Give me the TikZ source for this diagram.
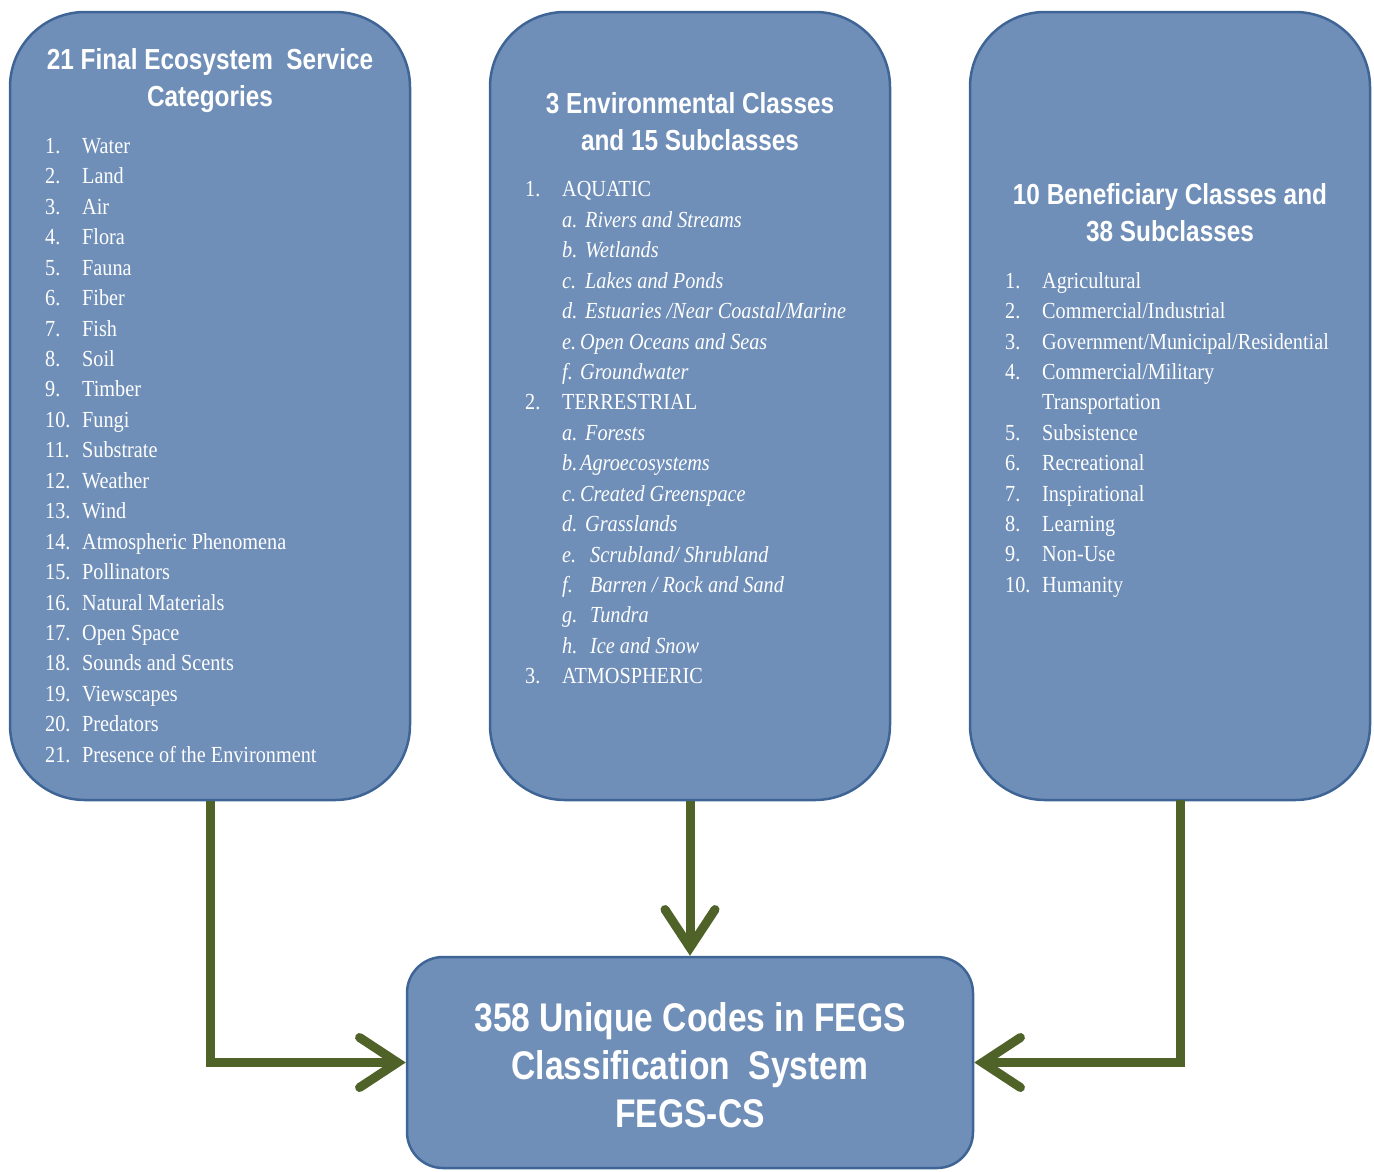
\documentclass[tikz,border=0pt]{standalone}
\usepackage{fontspec}
\setmainfont{Liberation Serif}[FakeStretch=0.88]
\newfontfamily\hdfont{Liberation Sans}[FakeStretch=0.84]
\usetikzlibrary{arrows.meta}
\definecolor{boxfill}{HTML}{6F8FB8}
\definecolor{boxline}{HTML}{3F6596}
\definecolor{fegsgreen}{HTML}{4F6228}
\tikzset{
  panel/.style={draw=boxline, fill=boxfill, line width=2.5pt, rounded corners=75pt, inner sep=0pt, minimum width=400pt, minimum height=788pt},
  resultbox/.style={draw=boxline, fill=boxfill, line width=2.5pt, rounded corners=36pt, inner sep=0pt, minimum width=566pt, minimum height=211pt},
  hd/.style={text=white, align=center, inner sep=0pt, font=\hdfont\bfseries\fontsize{29}{37}\selectfont},
  bighd/.style={text=white, align=center, inner sep=0pt, font=\hdfont\bfseries\fontsize{40}{48}\selectfont},
  lst/.style={text=white, anchor=mid west, inner sep=0pt, font=\fontsize{23}{27}\selectfont},
  ilst/.style={lst, font=\fontsize{23}{27}\selectfont\itshape},
  flow/.style={draw=fegsgreen, line width=9pt, -{Straight Barb[length=38pt,width=50pt,line cap=round]}}
}
\begin{document}
\begin{tikzpicture}[x=1pt,y=-1pt]
\useasboundingbox (0,0) rectangle (1374,1171);
% boxes
\node[panel] (b1) at (210,406) {};
\node[panel] (b2) at (690,406) {};
\node[panel] (b3) at (1170,406) {};
\node[resultbox] (b4) at (690,1062.5) {};
\coordinate (r3) at (1180,800);
% titles
\node[hd] (t1) at (210,81) {21 Final Ecosystem\ \ Service\\Categories};
\node[hd] (t2) at (690,122) {3 Environmental Classes\\and 15 Subclasses};
\node[hd] (t3) at (1170,213) {10 Beneficiary Classes and\\38 Subclasses};
\node[bighd] (t4) at (690,1065) {358 Unique\ Codes in FEGS\\Classification\ \ System\\FEGS-CS};
% list 1
\foreach \t [count=\i] in {Water,Land,Air,Flora,Fauna,Fiber,Fish,Soil,Timber,Fungi,Substrate,Weather,Wind,Atmospheric Phenomena,Pollinators,Natural Materials,Open Space,Sounds and Scents,Viewscapes,Predators,Presence of the Environment}{
  \node[lst] (n1-\i) at (45,{151+(\i-1)*30.45}) {\i.};
  \node[lst] (l1-\i) at (82,{151+(\i-1)*30.45}) {\t};
}
% list 2
\foreach \n/\nx/\t/\tx/\isit [count=\r from 0] in {
 1./525/AQUATIC/562/0,
 a./562/Rivers and Streams/585/1,
 b./562/Wetlands/585/1,
 c./562/Lakes and Ponds/585/1,
 d./562/{Estuaries /Near Coastal/Marine}/585/1,
 e./562/Open Oceans and Seas/580/1,
 f./562/Groundwater/580/1,
 2./525/TERRESTRIAL/562/0,
 a./562/Forests/585/1,
 b./562/Agroecosystems/580/1,
 c./562/Created Greenspace/580/1,
 d./562/Grasslands/585/1,
 e./562/{Scrubland/ Shrubland}/590/1,
 f./562/{Barren / Rock and Sand}/590/1,
 g./562/Tundra/590/1,
 h./562/Ice and Snow/590/1,
 3./525/ATMOSPHERIC/562/0}{
  \ifnum\isit=1
    \node[ilst] (n2-\r) at (\nx,{194.5+\r*30.44}) {\n};
    \node[ilst] (l2-\r) at (\tx,{194.5+\r*30.44}) {\t};
  \else
    \node[lst] (n2-\r) at (\nx,{194.5+\r*30.44}) {\n};
    \node[lst] (l2-\r) at (\tx,{194.5+\r*30.44}) {\t};
  \fi
}
% list 3
\foreach \n/\t [count=\r from 0] in {
 1./Agricultural,
 2./{Commercial/Industrial},
 3./{Government/Municipal/Residential},
 4./{Commercial/Military},
 {}/Transportation,
 5./Subsistence,
 6./Recreational,
 7./Inspirational,
 8./Learning,
 9./Non-Use,
 10./Humanity}{
  \node[lst] (n3-\r) at (1005,{286+\r*30.4}) {\n};
  \node[lst] (l3-\r) at (1042,{286+\r*30.4}) {\t};
}
% connectors
\draw[flow] (b1.south) |- (b4.west);
\draw[flow] (b2.south) -- (b4.north);
\draw[flow] (r3) |- (b4.east);
\end{tikzpicture}
\end{document}
